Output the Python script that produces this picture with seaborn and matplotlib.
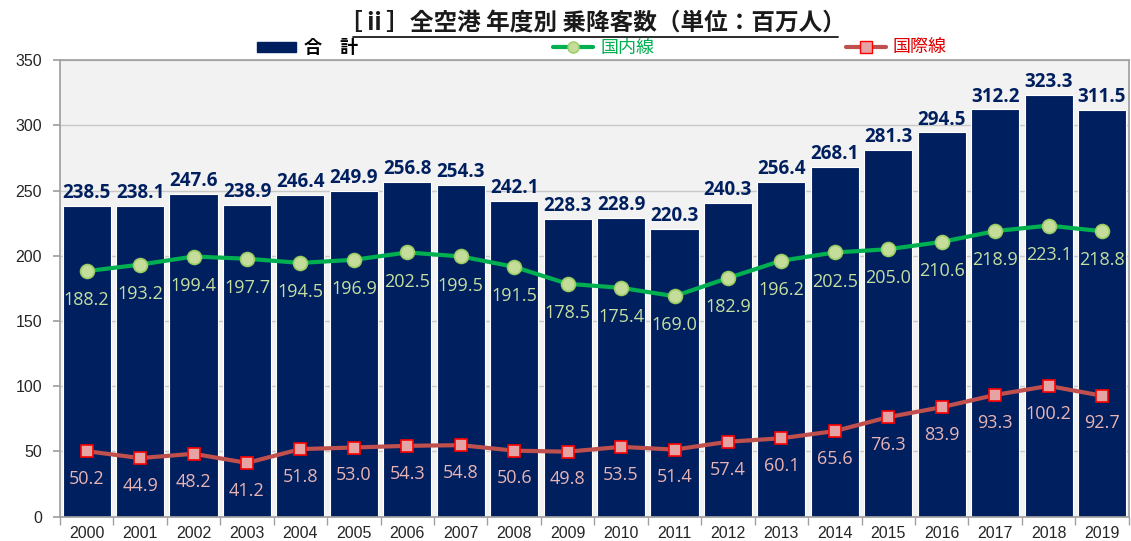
import numpy as np
import pandas as pd
import matplotlib
matplotlib.use("Agg")
import matplotlib.pyplot as plt
from matplotlib.lines import Line2D
from matplotlib.patches import Patch
import seaborn as sns

years = [str(y) for y in range(2000, 2020)]
total = [238.5, 238.1, 247.6, 238.9, 246.4, 249.9, 256.8, 254.3, 242.1, 228.3,
         228.9, 220.3, 240.3, 256.4, 268.1, 281.3, 294.5, 312.2, 323.3, 311.5]
domestic = [188.2, 193.2, 199.4, 197.7, 194.5, 196.9, 202.5, 199.5, 191.5, 178.5,
            175.4, 169.0, 182.9, 196.2, 202.5, 205.0, 210.6, 218.9, 223.1, 218.8]
international = [50.2, 44.9, 48.2, 41.2, 51.8, 53.0, 54.3, 54.8, 50.6, 49.8,
                 53.5, 51.4, 57.4, 60.1, 65.6, 76.3, 83.9, 93.3, 100.2, 92.7]

title = "［ⅱ］全空港 年度別 乗降客数（単位：百万人）"
names = ["合\u2003計", "国内線", "国際線"]

NAVY = "#001F5F"
GREEN = "#00B050"
GREEN_FILL = "#C4DD9B"
RED = "#C0504D"
RED_FILL = "#E6A3A3"

sns.set_theme(style="white")
plt.rcParams["font.family"] = ["Liberation Sans", "Noto Sans CJK JP", "DejaVu Sans"]

df = pd.DataFrame({"year": years, "total": total,
                   "domestic": domestic, "international": international})

fig = plt.figure(figsize=(11.31, 5.41), dpi=100)
ax = fig.add_axes([0.053, 0.045, 0.945, 0.844])
ax.set_facecolor("#F2F2F2")

sns.barplot(data=df, x="year", y="total", color=NAVY, saturation=1,
            width=0.9, edgecolor="white", linewidth=0.8, ax=ax, zorder=2)
x = np.arange(len(years))
ax.plot(x, domestic, color=GREEN, lw=3, marker="o", ms=10,
        mfc=GREEN_FILL, mec="#9BCB63", mew=1.2, zorder=4)
ax.plot(x, international, color=RED, lw=3, marker="s", ms=9,
        mfc=RED_FILL, mec="#FF0000", mew=1.2, zorder=4)

lab_font = ["Open Sans", "DejaVu Sans"]
for i in range(len(years)):
    ax.annotate(f"{total[i]:.1f}", (x[i], total[i]), xytext=(0, 2),
                textcoords="offset points", ha="center", va="bottom",
                fontsize=13.5, fontweight="bold", color=NAVY, family=lab_font)
    ax.annotate(f"{domestic[i]:.1f}", (x[i], domestic[i]), xytext=(0, -21),
                textcoords="offset points", ha="center", va="center",
                fontsize=13, color="#C6DFA0", family=lab_font, zorder=5)
    ax.annotate(f"{international[i]:.1f}", (x[i], international[i]), xytext=(0, -20),
                textcoords="offset points", ha="center", va="center",
                fontsize=13, color="#E8B4B4", family=lab_font, zorder=5)

ax.set_ylim(0, 350)
ax.set_yticks(range(0, 351, 50))
ax.set_xlim(-0.5, len(years) - 0.5)
ax.yaxis.grid(True, color="#C8C8C8", lw=1, zorder=0)
ax.set_axisbelow(True)
ax.set_xlabel("")
ax.set_ylabel("")
for s in ax.spines.values():
    s.set_color("#A0A0A0")
ax.tick_params(axis="y", labelsize=11.5, left=True, length=5, color="#A0A0A0", pad=8)
ax.tick_params(axis="x", labelsize=11.5, bottom=False, pad=1)
ax.set_xticks(np.arange(-0.5, len(years)), minor=True)
ax.tick_params(axis="x", which="minor", bottom=True, length=6, color="#A0A0A0")

# title with underline
fig.text(0.524, 0.957, title, ha="center", va="center", fontsize=17,
         fontweight="bold", color="#1A1A1A",
         family=["Noto Sans CJK JP", "DejaVu Sans"])
fig.add_artist(Line2D([0.312, 0.741], [0.931, 0.931], transform=fig.transFigure,
                      color="#1A1A1A", lw=1.3))

# legends
leg_font = {"family": ["Noto Sans CJK JP", "DejaVu Sans"], "size": 13}
handles = [
    Patch(facecolor=NAVY, edgecolor=NAVY),
    Line2D([], [], color=GREEN, lw=3, marker="o", ms=8, mfc=GREEN_FILL, mec="#9BCB63"),
    Line2D([], [], color=RED, lw=3, marker="s", ms=8, mfc=RED_FILL, mec="#FF0000"),
]
positions = [0.227, 0.489, 0.748]
colors = ["#000000", GREEN, "#E00000"]
for h, n, px, c in zip(handles, names, positions, colors):
    lg = fig.legend([h], [n], loc="center left", bbox_to_anchor=(px, 0.912),
                    frameon=False, prop=leg_font, handlelength=2.2,
                    handleheight=0.5, handletextpad=0.4, borderaxespad=0,
                    borderpad=0)
    for txt in lg.get_texts():
        txt.set_color(c)
        if c == "#000000":
            txt.set_fontweight("bold")

fig.savefig("out.png", dpi=100)
